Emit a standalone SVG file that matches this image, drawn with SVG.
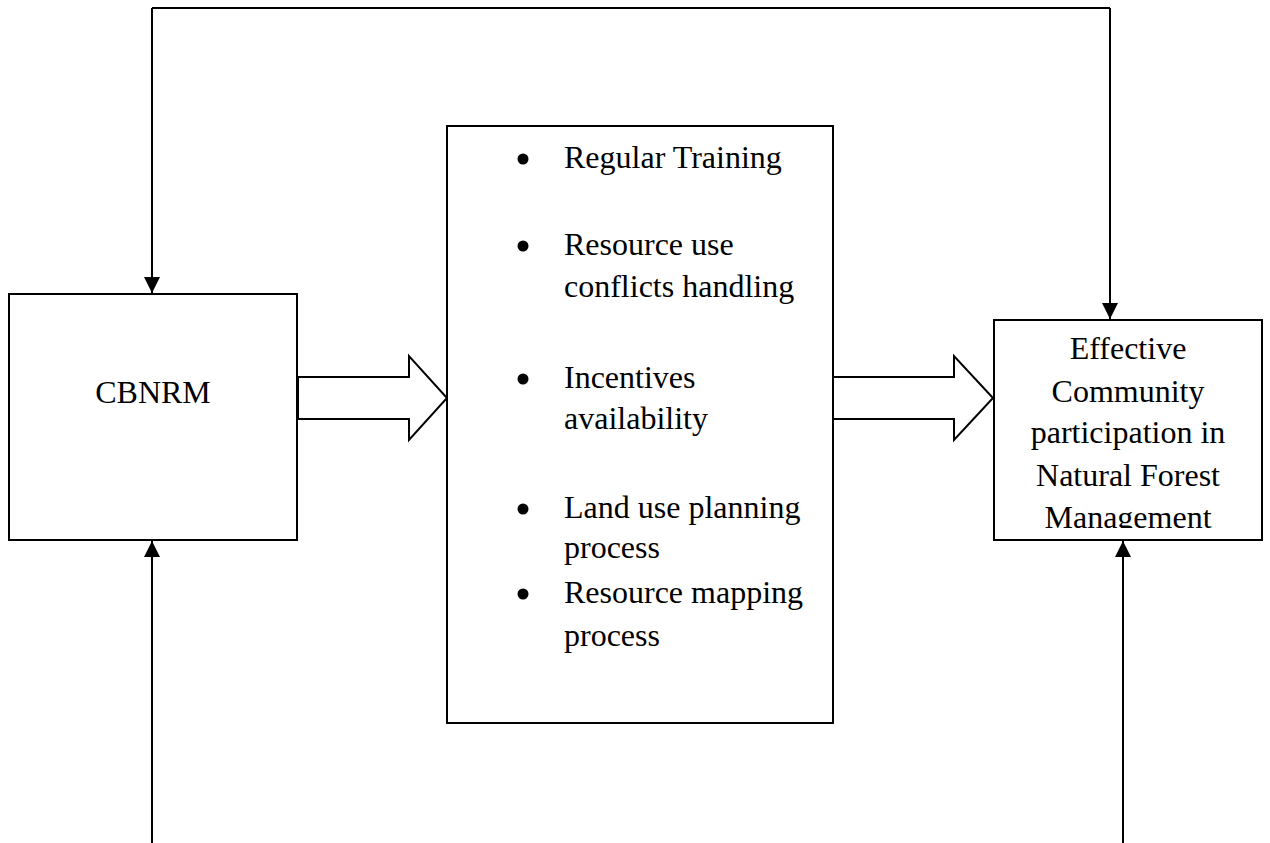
<svg xmlns="http://www.w3.org/2000/svg" width="1270" height="843" viewBox="0 0 1270 843">
  <style>
    .box { fill: #fff; stroke: #000; stroke-width: 2; }
    .line { fill: none; stroke: #000; stroke-width: 2; }
    .block { fill: #fff; stroke: #000; stroke-width: 2; stroke-linejoin: miter; }
    .t { font-family: "Liberation Serif", "Times New Roman", serif; font-size: 32px; fill: #000; }
    .c { text-anchor: middle; }
  </style>
  <defs>
    <marker id="arr" viewBox="0 0 16 16" markerWidth="16" markerHeight="16" refX="16" refY="8" orient="auto" markerUnits="userSpaceOnUse">
      <path d="M0,0 L16,8 L0,16 Z" fill="#000"/>
    </marker>
    <clipPath id="clipRight">
      <rect x="994" y="320" width="268" height="208"/>
    </clipPath>
  </defs>

  <g id="connectors">
    <path class="line" d="M152,8 L1110,8"/>
    <path class="line" d="M152,8 L152,293" marker-end="url(#arr)"/>
    <path class="line" d="M1110,8 L1110,319" marker-end="url(#arr)"/>
    <path class="line" d="M152,843 L152,541" marker-end="url(#arr)"/>
    <path class="line" d="M1123,843 L1123,541" marker-end="url(#arr)"/>
    <polygon class="block" points="298,377 409,377 409,356 447,398 409,440 409,419 298,419"/>
    <polygon class="block" points="833,377 954,377 954,356 993,398 954,440 954,419 833,419"/>
  </g>

  <g id="node-cbnrm">
    <rect class="box" x="9" y="294" width="288" height="246"/>
    <text class="t c" x="153" y="403">CBNRM</text>
  </g>

  <g id="node-activities">
    <rect class="box" x="447" y="126" width="386" height="597"/>
    <circle cx="523" cy="159" r="5.5"/>
    <text class="t" x="564" y="168">Regular Training</text>
    <circle cx="523" cy="246" r="5.5"/>
    <text class="t" x="564" y="255">Resource use</text>
    <text class="t" x="564" y="297">conflicts handling</text>
    <circle cx="523" cy="379" r="5.5"/>
    <text class="t" x="564" y="388">Incentives</text>
    <text class="t" x="564" y="429">availability</text>
    <circle cx="523" cy="509" r="5.5"/>
    <text class="t" x="564" y="518">Land use planning</text>
    <text class="t" x="564" y="558">process</text>
    <circle cx="523" cy="594" r="5.5"/>
    <text class="t" x="564" y="603">Resource mapping</text>
    <text class="t" x="564" y="646">process</text>
  </g>

  <g id="node-outcome">
    <rect class="box" x="994" y="320" width="268" height="220"/>
    <g clip-path="url(#clipRight)">
      <text class="t c" x="1128" y="359">Effective</text>
      <text class="t c" x="1128" y="402">Community</text>
      <text class="t c" x="1128" y="443">participation in</text>
      <text class="t c" x="1128" y="486">Natural Forest</text>
      <text class="t c" x="1128" y="528">Management</text>
    </g>
  </g>
</svg>
